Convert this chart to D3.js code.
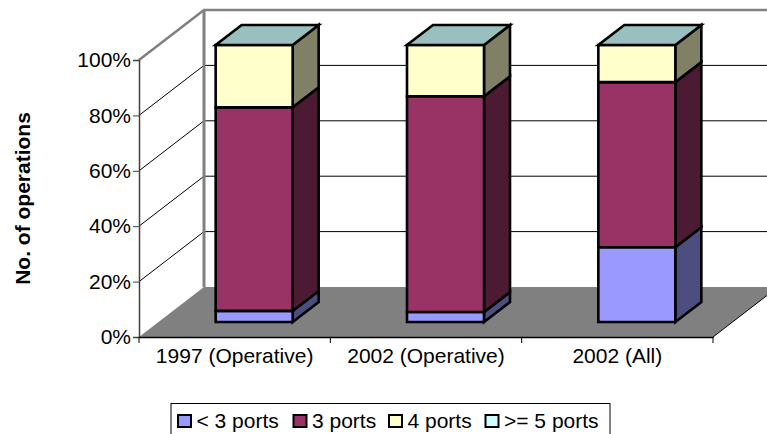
<!DOCTYPE html>
<html>
<head>
<meta charset="utf-8">
<script src="https://d3js.org/d3.v7.min.js"></script>
<style>
 html, body { margin: 0; padding: 0; background: #fff; overflow: hidden; }
 text { font-family: "Liberation Sans", Arial, sans-serif; fill: #000; }
</style>
</head>
<body>
<svg width="767" height="434"></svg>
<script>
 var categories = ["1997 (Operative)", "2002 (Operative)", "2002 (All)"];
 var seriesNames = ["< 3 ports", "3 ports", "4 ports", ">= 5 ports"];
 var lessThan3 = [4, 3.6, 27];
 var ports3 = [73.5, 77.9, 59.6];
 var ports4 = [22.5, 18.5, 13.4];
 var atLeast5 = [0, 0, 0];
 var yTicks = [0, 20, 40, 60, 80, 100];

 var frontColors = ["#9999ff", "#993366", "#ffffcc", "#ccffff"];
 var sideColors = ["#4d4d80", "#4d1a33", "#808066", "#668080"];
 var topColor = "#99c0be";

 var rows = categories.map(function(c, i) {
     return { cat: c, 0: lessThan3[i], 1: ports3[i], 2: ports4[i], 3: atLeast5[i] };
 });
 var stacked = d3.stack().keys([0, 1, 2, 3])(rows);

 var svg = d3.select("svg");

 var x = d3.scaleBand().domain(categories).range([139, 713]);
 var y = d3.scaleLinear().domain([0, 100]).range([337, 60]);

 // depth: 0 is the front of the box, 1 is the back wall
 var depthX = d3.scaleLinear().domain([0, 1]).range([0, 65]);
 var depthY = d3.scaleLinear().domain([0, 1]).range([0, -50]);
 var barFront = 0.3, barBack = 0.7, barWidth = 77;
 var fontSize = 21;

 function px(xv, yv, d) { return [xv + depthX(d), y(yv) + depthY(d)]; }
 function poly(pts) { return "M" + pts.map(function(p) { return p.join(","); }).join("L") + "Z"; }

 var left = x.range()[0], right = x.range()[1];

 // floor
 svg.append("path")
    .attr("d", poly([px(left,0,0), px(right,0,0), px(right,0,1), px(left,0,1)]))
    .attr("fill", "#808080");

 // grid lines on the walls
 yTicks.slice(1, 5).forEach(function(t) {
     var a = px(left,t,0), b = px(left,t,1), c = px(right,t,1);
     svg.append("path").attr("d", "M" + a + "L" + b + "L" + c)
        .attr("fill", "none").attr("stroke", "#000").attr("stroke-width", 1);
 });

 // wall edges
 var topA = px(left,100,0), topB = px(left,100,1), topC = px(right,100,1), botB = px(left,0,1);
 svg.append("path").attr("d", "M" + topA + "L" + topB + "L" + topC)
    .attr("fill", "none").attr("stroke", "#808080").attr("stroke-width", 2.5);
 svg.append("path").attr("d", "M" + topB + "L" + botB)
    .attr("fill", "none").attr("stroke", "#808080").attr("stroke-width", 3);
 svg.append("path").attr("d", "M" + px(right,0,0) + "L" + px(right,0,1))
    .attr("fill", "none").attr("stroke", "#000").attr("stroke-width", 1);

 // bars
 categories.forEach(function(c, i) {
     var x0 = x(c) + x.bandwidth() / 2 + depthX(barFront) - barWidth / 2;
     var x1 = x0 + barWidth;
     var g = svg.append("g").attr("stroke", "#000").attr("stroke-width", 2.6).attr("stroke-linejoin", "miter");
     var shift = function(xv, yv, d) {
         return [xv + depthX(d - barFront), y(yv) + depthY(d)];
     };
     stacked.forEach(function(s, k) {
         var lo = s[i][0], hi = s[i][1];
         if (hi === lo) return;
         g.append("path")
          .attr("d", poly([shift(x1,lo,barFront), shift(x1,lo,barBack), shift(x1,hi,barBack), shift(x1,hi,barFront)]))
          .attr("fill", sideColors[k]);
         g.append("path")
          .attr("d", poly([shift(x0,lo,barFront), shift(x1,lo,barFront), shift(x1,hi,barFront), shift(x0,hi,barFront)]))
          .attr("fill", frontColors[k]);
     });
     g.append("path")
      .attr("d", poly([shift(x0,100,barFront), shift(x1,100,barFront), shift(x1,100,barBack), shift(x0,100,barBack)]))
      .attr("fill", topColor);
 });

 // axes
 var yAxis = d3.axisLeft(y).tickValues(yTicks).tickFormat(function(d) { return d + "%"; })
     .tickSize(6).tickPadding(2);
 var gy = svg.append("g").attr("transform", "translate(" + left + ",0)").call(yAxis);
 gy.select(".domain").attr("stroke", "#404040").attr("stroke-width", 1.5);
 gy.selectAll("line").attr("stroke", "#404040");
 gy.selectAll("text").attr("font-size", fontSize).attr("font-family", null);

 var xAxis = d3.axisBottom(x).tickSize(0).tickPadding(11);
 var gx = svg.append("g").attr("transform", "translate(0," + y(0) + ")").call(xAxis);
 gx.select(".domain").attr("stroke", "#000").attr("stroke-width", 1.5);
 gx.selectAll("text").attr("font-size", fontSize).attr("font-family", null);
 x.domain().map(function(c) { return x(c); }).concat([right]).forEach(function(e) {
     svg.append("line").attr("x1", e).attr("x2", e).attr("y1", y(0)).attr("y2", y(0) + 6)
        .attr("stroke", "#000").attr("stroke-width", 1);
 });

 // axis title
 svg.append("text")
    .attr("transform", "translate(30,198.5) rotate(-90)")
    .attr("text-anchor", "middle")
    .attr("font-size", 21)
    .attr("font-weight", "bold")
    .text("No. of operations");

 // legend
 svg.append("rect").attr("x", 171).attr("y", 403.5).attr("width", 439).attr("height", 40)
    .attr("fill", "#fff").attr("stroke", "#000").attr("stroke-width", 1);
 var legendX = [178, 293.5, 389, 485.5];
 seriesNames.forEach(function(n, k) {
     svg.append("rect").attr("x", legendX[k]).attr("y", 415).attr("width", 13).attr("height", 12)
        .attr("fill", frontColors[k]).attr("stroke", "#000").attr("stroke-width", 2);
     svg.append("text").attr("x", legendX[k] + 18.5).attr("y", 428).attr("font-size", fontSize).text(n);
 });
</script>
</body>
</html>
